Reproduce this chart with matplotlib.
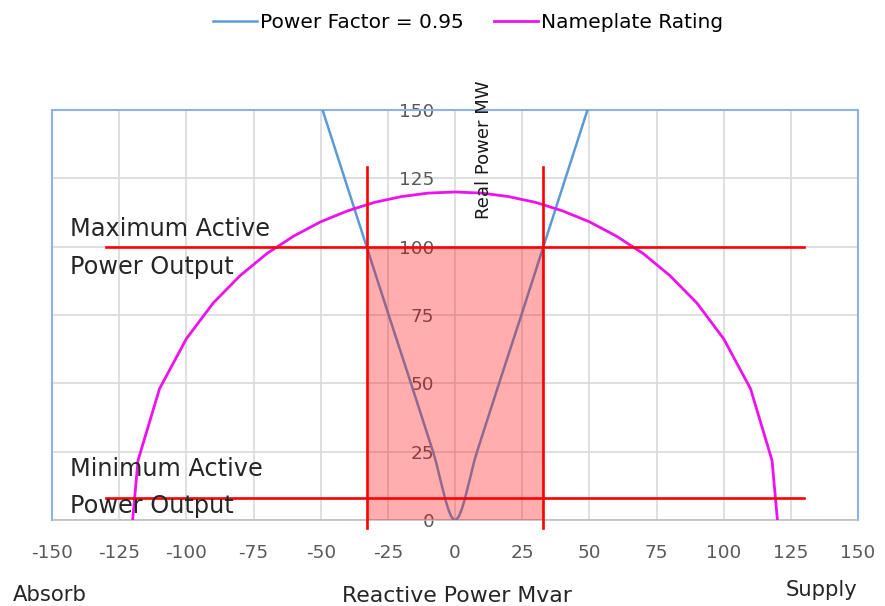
import matplotlib
matplotlib.use("Agg")
import matplotlib.pyplot as plt
import matplotlib.patches as mpatches
from matplotlib.path import Path
import numpy as np

plt.rcParams["font.family"] = ["DejaVu Sans"]
plt.rcParams["axes.unicode_minus"] = False

# ---------------------------------------------------------------------------
# Data
# ---------------------------------------------------------------------------

# Power factor 0.95 boundary (Q in Mvar, P in MW)
PF_Q = [-49.3, -41.1, -32.9, -24.7, -16.4, -8.2, 0.0, 8.2, 16.4, 24.7, 32.9, 41.1, 49.3]
PF_P = [150, 125, 100, 75, 50, 25, 0, 25, 50, 75, 100, 125, 150]

# Nameplate rating (120 MVA capability curve)
NP_Q = [-120, -118, -110, -100, -90, -80, -70, -60, -50, -40, -30, -20, -10, 0,
        10, 20, 30, 40, 50, 60, 70, 80, 90, 100, 110, 118, 120]
NP_P = [0.0, 21.8, 48.0, 66.3, 79.4, 89.4, 97.5, 103.9, 109.1, 113.1, 116.2, 118.3, 119.6, 120.0,
        119.6, 118.3, 116.2, 113.1, 109.1, 103.9, 97.5, 89.4, 79.4, 66.3, 48.0, 21.8, 0.0]

# Operating limits
MAX_P = 100
MIN_P = 8
LIMIT_Q = 32.9          # reactive limit at max output (PF 0.95)
H_LINE_Q = (-130, 130)  # extent of the horizontal limit lines
V_LINE_P = (-3, 129)    # extent of the vertical limit lines

X_TICKS = list(range(-150, 151, 25))
Y_TICKS = list(range(0, 151, 25))

BLUE = "#5b9bd5"
MAGENTA = "#ee11ee"
RED = "#ff0000"
FRAME = "#8db3e2"
GRID = "#d9d9d9"
TICK = "#595959"
TEXT = "#262626"


def smooth_path(xs, ys):
    """Excel-style smoothed line: cubic Bezier through every point."""
    pts = np.column_stack([xs, ys]).astype(float)
    verts = [pts[0]]
    codes = [Path.MOVETO]
    n = len(pts)
    for i in range(n - 1):
        p0 = pts[max(i - 1, 0)]
        p1, p2 = pts[i], pts[i + 1]
        p3 = pts[min(i + 2, n - 1)]
        verts += [p1 + (p2 - p0) / 6, p2 - (p3 - p1) / 6, p2]
        codes += [Path.CURVE4] * 3
    return Path(verts, codes)


fig = plt.figure(figsize=(8.85, 6.06), dpi=100)
ax = fig.add_axes([0.0588, 0.1419, 0.9107, 0.6766])

ax.add_patch(mpatches.PathPatch(smooth_path(PF_Q, PF_P), facecolor="none",
                                edgecolor=BLUE, lw=1.8, zorder=3))
ax.plot([], [], color=BLUE, lw=1.8, label="Power Factor = 0.95")
ax.plot(NP_Q, NP_P, color=MAGENTA, lw=2.0, label="Nameplate Rating", zorder=3)

# shaded operating region
ax.add_patch(mpatches.Rectangle((-LIMIT_Q, 0), 2 * LIMIT_Q, MAX_P,
                                facecolor=RED, alpha=0.32, edgecolor="none", zorder=4))

# limit lines
for p in (MAX_P, MIN_P):
    ax.plot(H_LINE_Q, (p, p), color=RED, lw=1.9, zorder=5, clip_on=False)
for q in (-LIMIT_Q, LIMIT_Q):
    ax.plot((q, q), V_LINE_P, color=RED, lw=1.9, zorder=5, clip_on=False)

ax.set_xlim(-150, 150)
ax.set_ylim(0, 150)
ax.set_xticks(X_TICKS)
ax.set_yticks(Y_TICKS)
ax.grid(True, color=GRID, lw=1.2, zorder=0)
ax.set_axisbelow(True)
ax.tick_params(axis="both", length=0, colors=TICK, labelsize=13.3)
ax.tick_params(axis="x", pad=17)
ax.tick_params(axis="y", pad=15)

# y tick labels sit on the Q = 0 axis
ax.spines["left"].set_position(("data", 0))
ax.spines["left"].set_visible(False)
ax.axvline(-150, color=FRAME, lw=1.5, clip_on=False, zorder=6)
for s in ("top", "right"):
    ax.spines[s].set_color(FRAME)
    ax.spines[s].set_linewidth(1.5)
ax.spines["bottom"].set_color("#bfbfbf")
ax.spines["bottom"].set_linewidth(1.2)

# annotations
ax.text(-143.5, 99.5, "Maximum Active\nPower Output", fontsize=17.3, color=TEXT,
        va="center", ha="left", linespacing=1.7, zorder=7)
ax.text(-143.5, 12, "Minimum Active\nPower Output", fontsize=17.3, color=TEXT,
        va="center", ha="left", linespacing=1.7, zorder=7)
ax.text(10.8, 135.5, "Real Power MW", rotation=90, fontsize=13, color="#1a1a1a",
        va="center", ha="center", zorder=7, clip_on=False)

fig.text(0.014, 0.018, "Absorb", fontsize=15.2, color=TEXT, ha="left", va="center")
fig.text(0.516, 0.016, "Reactive Power Mvar", fontsize=15.8, color=TEXT, ha="center", va="center")
fig.text(0.969, 0.026, "Supply", fontsize=15.2, color=TEXT, ha="right", va="center")

fig.legend(loc="upper center", bbox_to_anchor=(0.529, 1.008), ncol=2, frameon=False,
           fontsize=14.5, handlelength=2.2, handletextpad=0.15, columnspacing=1.5)

fig.savefig("out.png", dpi=100)
